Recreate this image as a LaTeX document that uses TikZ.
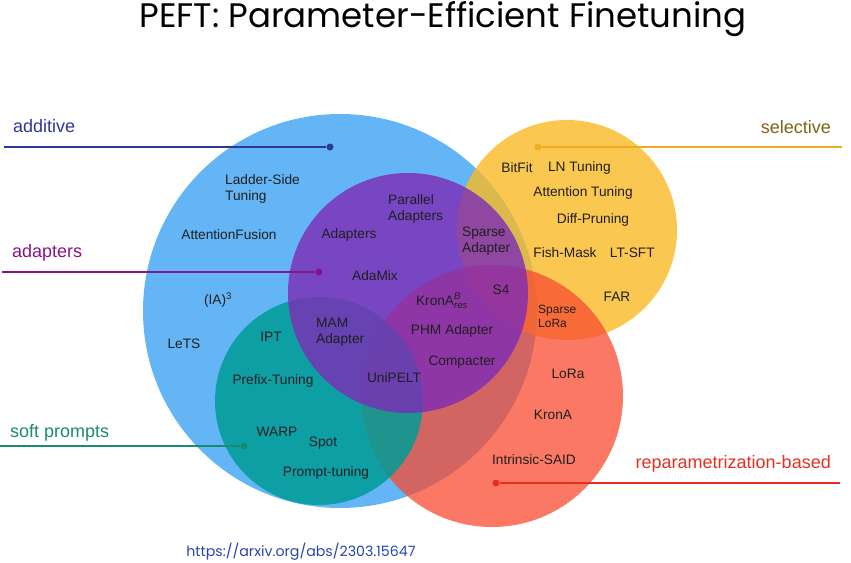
\documentclass[tikz,border=0pt]{standalone}
\usepackage{amsmath}
\usepackage{fontspec}
\setmainfont{Liberation Sans}
\newfontfamily\poppins{Poppins}
\usetikzlibrary{positioning}

% circle fills
\definecolor{addblue}{RGB}{100,181,246}
\definecolor{selyellow}{RGB}{249,186,36}
\definecolor{repred}{RGB}{248,75,48}
\definecolor{softteal}{RGB}{0,156,151}
\definecolor{adapurple}{RGB}{125,43,183}
% label lines and texts
\definecolor{addline}{RGB}{45,55,150}
\definecolor{adaline}{RGB}{135,20,135}
\definecolor{softline}{RGB}{25,140,110}
\definecolor{selline}{RGB}{238,172,30}
\definecolor{seltext}{RGB}{125,100,20}
\definecolor{repline}{RGB}{228,48,30}
\definecolor{urlblue}{RGB}{40,70,170}

\begin{document}
\begin{tikzpicture}[
  x=1pt, y=-1pt,
  item/.style={font=\fontsize{13.7}{16}\selectfont, text=black!88, inner sep=1pt, align=left},
  small/.style={item, font=\fontsize{12}{14}\selectfont},
  cat/.style={font=\fontsize{18}{20}\selectfont, inner sep=0pt},
  catline/.style={line width=1.1pt},
  dot/.style={circle, fill=#1, inner sep=0pt, minimum size=7pt}
]
\useasboundingbox (0,0) rectangle (851,562);

%
%  Venn layout (pixels, y down):
%   additive  (340,311) r197     adapters (408,293) r120
%   soft      (319,401) r104     selective (567,230) r110
%   reparam   (492,396) r131
%

% --- circles ---
\fill[addblue] (340,311) circle[radius=197];
\fill[selyellow, fill opacity=0.8] (567,230) circle[radius=110];
\fill[repred, fill opacity=0.75] (492,396) circle[radius=131];
\fill[softteal, fill opacity=0.85] (319,401) circle[radius=104];
\fill[adapurple, fill opacity=0.8] (408,293) circle[radius=120];

% --- title and source ---
\node[font=\poppins\fontsize{34}{38}\selectfont] (title) at (443,19)
     {PEFT: Parameter-Efficient Finetuning};
\node[font=\poppins\fontsize{14.2}{16}\selectfont, text=urlblue] (src) at (301,552)
     {https://arxiv.org/abs/2303.15647};

% --- category labels ---
\node[cat, text=addline, anchor=base west] (additive) at (13,132) {additive};
\node[dot=addline] (adddot) at (330,147) {};
\coordinate (addend) at (4,147);
\draw[catline, addline] (addend) -- (adddot);

\node[cat, text=adaline, anchor=base west] (adapters) at (12,257) {adapters};
\node[dot=adaline] (adadot) at (319,272) {};
\coordinate (adaend) at (2,272);
\draw[catline, adaline] (adaend) -- (adadot);

\node[cat, text=softline, anchor=base west] (soft) at (10,437) {soft prompts};
\node[dot=softline] (softdot) at (244,446) {};
\coordinate (softend) at (0,446);
\draw[catline, softline] (softend) -- (softdot);

\node[cat, text=seltext, anchor=base east] (selective) at (831,133) {selective};
\node[dot=selline] (seldot) at (538,147) {};
\coordinate (selend) at (842,147);
\draw[catline, selline] (seldot) -- (selend);

\node[cat, text=repline, anchor=base east] (reparam) at (831,468) {reparametrization-based};
\node[dot=repline] (repdot) at (496,483) {};
\coordinate (repend) at (840,483);
\draw[catline, repline] (repdot) -- (repend);

% --- additive only ---
\node[item, anchor=west] (ladder) at (224,189) {Ladder-Side\\Tuning};
\node[item] (attfus) at (229,235) {AttentionFusion};
\node[item] (ia3) at (218,300) {(IA)\textsuperscript{3}};
\node[item] (lets) at (184,344) {LeTS};

% --- adapters ---
\node[item] (adapt) at (349,235) {Adapters};
\node[item, anchor=west] (paral) at (387,209) {Parallel\\Adapters};
\node[item] (adamix) at (375,276) {AdaMix};
\node[item, anchor=west] (sparad) at (461,241) {Sparse\\Adapter};
\node[item] (s4) at (501,290) {S4};
\node[item] (krona) at (442,301) {KronA$^{\textit{B}}_{\textit{res}}$};
\node[item] (phm) at (452,331) {PHM Adapter};
\node[item] (compac) at (462,362) {Compacter};
\node[item, anchor=west] (mam) at (315,332) {MAM\\Adapter};
\node[item] (unipelt) at (394,378) {UniPELT};

% --- soft prompts ---
\node[item] (ipt) at (271,337) {IPT};
\node[item] (prefix) at (273,381) {Prefix-Tuning};
\node[item] (warp) at (277,432) {WARP};
\node[item] (spot) at (323,443) {Spot};
\node[item] (prompt) at (326,473) {Prompt-tuning};

% --- selective ---
\node[item] (bitfit) at (517,168) {BitFit};
\node[item, right=13pt of bitfit] (lntun) {LN Tuning};
\node[item] (atttun) at (583,193) {Attention Tuning};
\node[item] (diffpr) at (593,220) {Diff-Pruning};
\node[item] (fish) at (565,253) {Fish-Mask};
\node[item, right=11pt of fish] (ltsft) {LT-SFT};
\node[item] (far) at (617,297) {FAR};
\node[small, anchor=west] (sparlo) at (537,316) {Sparse\\LoRa};

% --- reparametrization-based ---
\node[item] (lora) at (568,374) {LoRa};
\node[item] (kronab) at (553,415) {KronA};
\node[item] (said) at (534,460) {Intrinsic-SAID};

\end{tikzpicture}
\end{document}
